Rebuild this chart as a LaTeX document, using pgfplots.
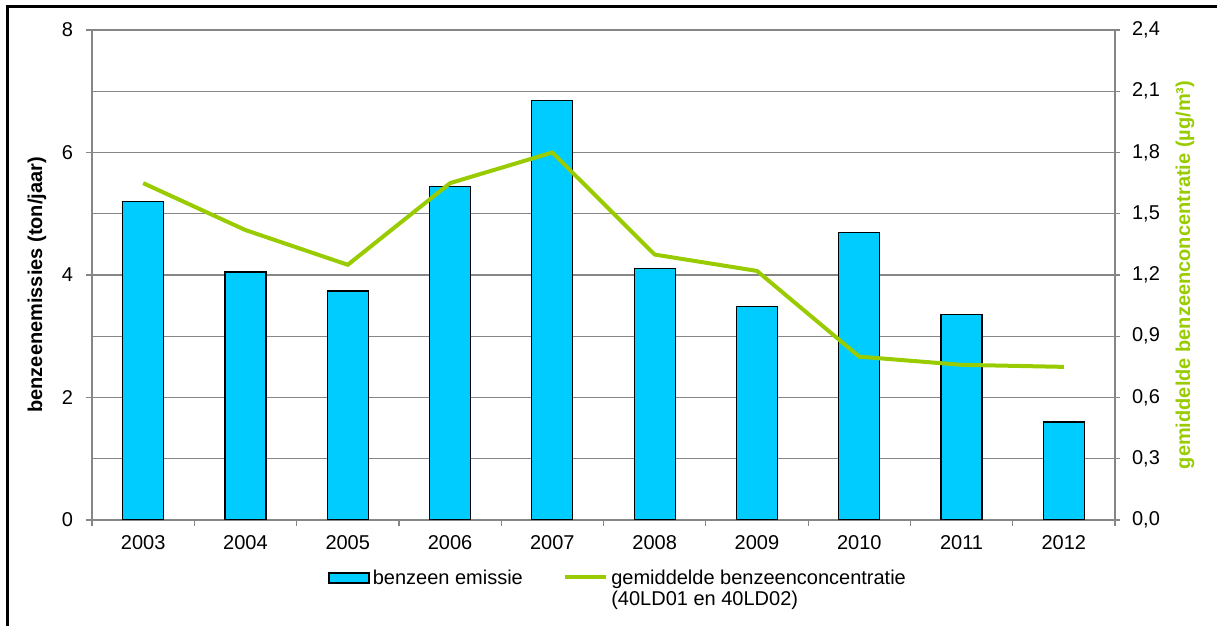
\documentclass[border=0pt]{standalone}
\usepackage{fontspec}
\setmainfont{Liberation Sans}
\usepackage{pgfplots}
\pgfplotsset{compat=1.18}

\definecolor{barblue}{RGB}{0,204,255}
\definecolor{linegreen}{RGB}{153,204,0}
\definecolor{axisgray}{RGB}{134,134,134}

\pgfplotsset{
  boxlegend/.style={legend image code/.code={\draw[##1] (0pt,0.65pt) rectangle (20pt,5.65pt);}},
  linelegend/.style={legend image code/.code={\draw[##1] (0pt,3.5pt) -- (20.5pt,3.5pt);}},
}

\begin{document}
\begin{tikzpicture}
\useasboundingbox (0,0) rectangle (608.5pt,313pt);
% chart frame (left and top edges)
\draw[line width=1.5pt] (3.75pt,0pt) -- (3.75pt,309.75pt) -- (608.5pt,309.75pt);

% emissions (left axis)
\begin{axis}[
  at={(46pt,53pt)}, anchor=south west,
  scale only axis, width=511.5pt, height=245pt,
  xmin=-0.5, xmax=9.5, ymin=0, ymax=8,
  xtick={-0.5,0.5,...,9.5},
  xticklabels={2003,2004,2005,2006,2007,2008,2009,2010,2011,2012},
  x tick label as interval,
  ytick={0,2,4,6,8},
  minor ytick={1,3,5,7},
  ymajorgrids, yminorgrids,
  major grid style={draw=axisgray, line width=0.6pt},
  minor grid style={draw=axisgray, line width=0.6pt},
  axis line style={draw=axisgray, line width=0.6pt},
  tick style={draw=axisgray, line width=0.6pt},
  tick align=outside,
  major tick length=3pt, minor tick length=0pt,
  xtick pos=bottom, ytick pos=left,
  ticklabel style={font=\fontsize{10}{11}\selectfont},
  /pgf/number format/assume math mode=true,
  yticklabel style={xshift=-3pt},
  xticklabel style={yshift=-1.2pt},
  ylabel={\bfseries benzeenemissies (ton/jaar)},
  every axis y label/.style={at={(axis description cs:-0.0538,0.48)}, rotate=90, anchor=center, font=\fontsize{10}{11}\selectfont},
  legend columns=2,
  legend style={
    at={(axis description cs:0.2307,-0.0927)}, anchor=north west,
    draw=none, inner sep=0pt, column sep=0pt,
    font=\fontsize{10}{10.8}\selectfont,
    nodes={inner xsep=1.6pt, inner ysep=2pt},
    cells={anchor=base west},
    /tikz/every even column/.append style={column sep=18.5pt},
  },
]
\addplot[ybar, bar width=20.5pt, bar shift=0pt, fill=barblue, draw=black, line width=0.6pt, boxlegend]
  coordinates {
  (0,5.20) (1,4.05) (2,3.74) (3,5.45) (4,6.85)
  (5,4.10) (6,3.49) (7,4.70) (8,3.35) (9,1.60)
};
\addlegendentry{benzeen emissie}
\addlegendimage{linegreen, line width=2pt, linelegend}
\addlegendentry{\vtop{\hbox{gemiddelde benzeenconcentratie}\hbox{(40LD01 en 40LD02)}}}
\end{axis}

% mean concentration (right axis)
\begin{axis}[
  at={(46pt,53pt)}, anchor=south west,
  scale only axis, width=511.5pt, height=245pt,
  xmin=-0.5, xmax=9.5, ymin=0, ymax=2.4,
  axis x line=none,
  axis y line*=right,
  ytick={0,0.3,0.6,0.9,1.2,1.5,1.8,2.1,2.4},
  axis line style={draw=axisgray, line width=0.6pt},
  tick style={draw=axisgray, line width=0.6pt},
  tick align=outside, major tick length=2.5pt,
  ticklabel style={font=\fontsize{10}{11}\selectfont},
  /pgf/number format/.cd, assume math mode=true, use comma, fixed, fixed zerofill, precision=1,
  /pgfplots/.cd,
  yticklabel style={xshift=2.5pt},
  ylabel={\bfseries gemiddelde benzeenconcentratie (µg/m³)},
  every axis y label/.style={at={(axis description cs:1.0684,0.5)}, rotate=90, anchor=center, font=\fontsize{10}{11}\selectfont, text=linegreen},
]
\addplot[linegreen, line width=2pt, mark=none] coordinates {
  (0,1.65) (1,1.42) (2,1.25) (3,1.65) (4,1.80)
  (5,1.30) (6,1.22) (7,0.80) (8,0.76) (9,0.75)
};
\end{axis}
\end{tikzpicture}
\end{document}
